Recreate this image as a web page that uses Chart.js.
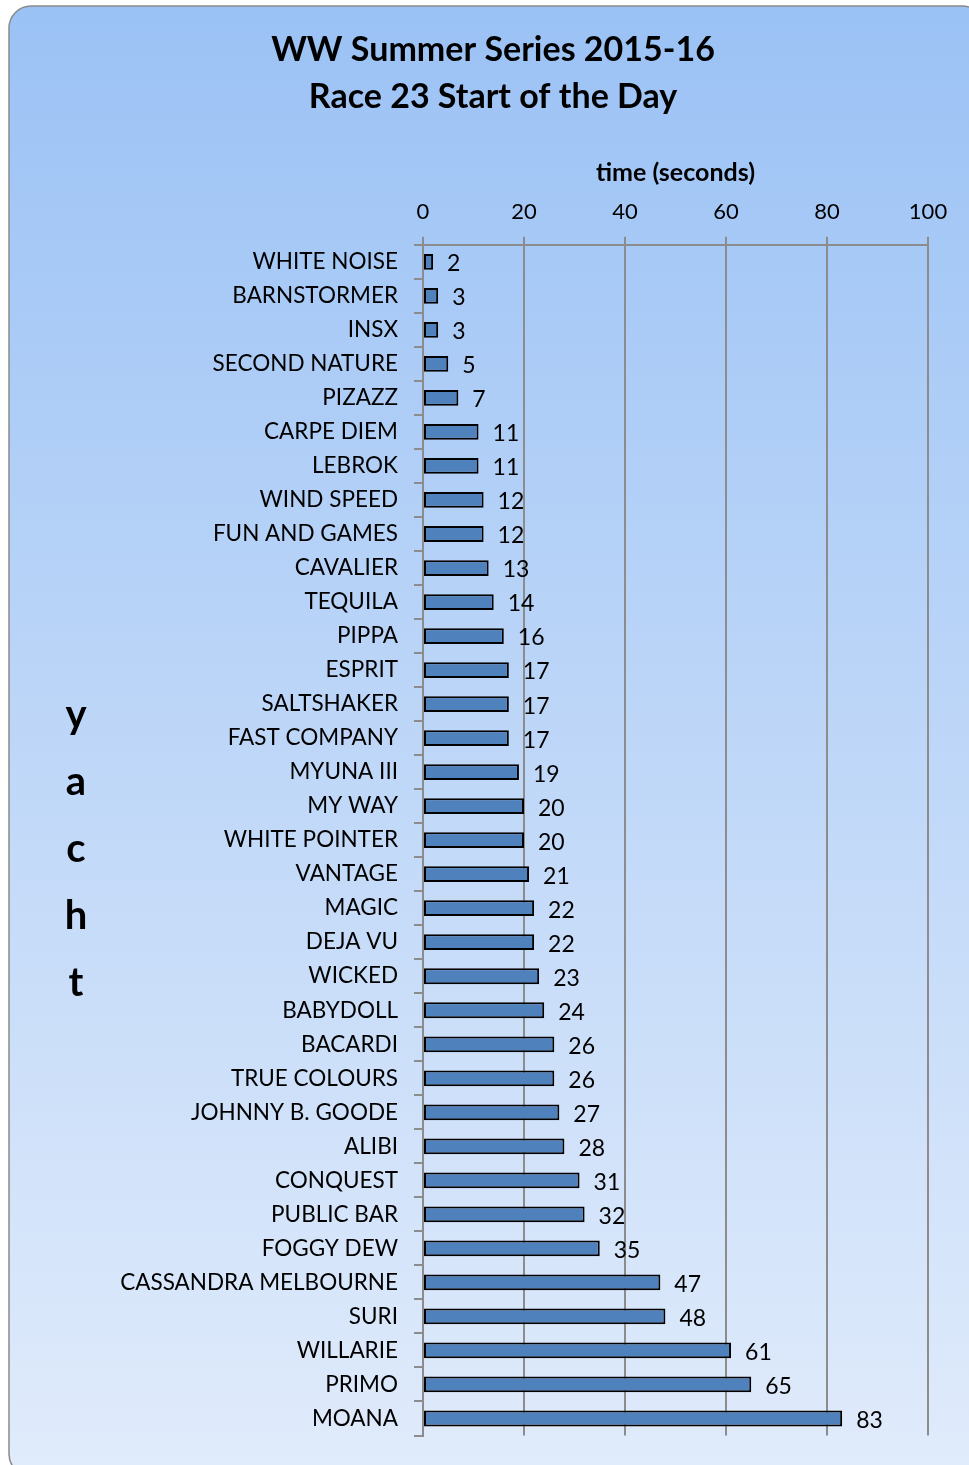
<!DOCTYPE html>
<html>
<head>
<meta charset="utf-8">
<script src="https://cdn.jsdelivr.net/npm/chart.js@4.4.1/dist/chart.umd.min.js"></script>
<style>
  html, body { margin: 0; padding: 0; background: #ffffff; }
  #wrap { width: 969px; height: 1465px; }
</style>
</head>
<body>
<div id="wrap"><canvas id="grafico"></canvas></div>
<script>
const barcos = [
    'WHITE NOISE', 'BARNSTORMER', 'INSX', 'SECOND NATURE', 'PIZAZZ', 'CARPE DIEM', 'LEBROK',
    'WIND SPEED', 'FUN AND GAMES', 'CAVALIER', 'TEQUILA', 'PIPPA', 'ESPRIT', 'SALTSHAKER',
    'FAST COMPANY', 'MYUNA III', 'MY WAY', 'WHITE POINTER', 'VANTAGE', 'MAGIC', 'DEJA VU',
    'WICKED', 'BABYDOLL', 'BACARDI', 'TRUE COLOURS', 'JOHNNY B. GOODE', 'ALIBI', 'CONQUEST',
    'PUBLIC BAR', 'FOGGY DEW', 'CASSANDRA MELBOURNE', 'SURI', 'WILLARIE', 'PRIMO', 'MOANA'
];
const tempos = [2, 3, 3, 5, 7, 11, 11, 12, 12, 13, 14, 16, 17, 17, 17, 19, 20, 20, 21, 22, 22,
    23, 24, 26, 26, 27, 28, 31, 32, 35, 47, 48, 61, 65, 83];
const titulo = ['WW Summer Series 2015-16', 'Race 23 Start of the Day'];
const tituloX = 'time (seconds)';
const tituloY = ['y', 'a', 'c', 'h', 't'];

const fonte = "Lato, 'Open Sans', sans-serif";

// fundo arredondado com degrade
const fundoPlugin = {
    id: 'fundo',
    beforeDraw(chart) {
        const ctx = chart.ctx;
        const x = 9, y = 6, w = 975, h = 1470, r = 22;
        const grad = ctx.createLinearGradient(0, y, 0, chart.height);
        grad.addColorStop(0, '#9bc2f5');
        grad.addColorStop(1, '#e0ebfb');
        ctx.save();
        ctx.beginPath();
        ctx.moveTo(x + r, y);
        ctx.lineTo(x + w - r, y);
        ctx.arcTo(x + w, y, x + w, y + r, r);
        ctx.lineTo(x + w, y + h - r);
        ctx.arcTo(x + w, y + h, x + w - r, y + h, r);
        ctx.lineTo(x + r, y + h);
        ctx.arcTo(x, y + h, x, y + h - r, r);
        ctx.lineTo(x, y + r);
        ctx.arcTo(x, y, x + r, y, r);
        ctx.closePath();
        ctx.fillStyle = grad;
        ctx.fill();
        ctx.lineWidth = 1.5;
        ctx.strokeStyle = '#8a8a8a';
        ctx.stroke();
        ctx.restore();
    }
};

// valores ao lado das barras + titulo vertical "yacht"
const rotulosPlugin = {
    id: 'rotulos',
    afterDatasetsDraw(chart) {
        const ctx = chart.ctx;
        const meta = chart.getDatasetMeta(0);
        ctx.save();
        ctx.font = '23px ' + fonte;
        ctx.fillStyle = '#000000';
        ctx.textAlign = 'left';
        ctx.textBaseline = 'middle';
        meta.data.forEach((bar, i) => {
            ctx.fillText(String(tempos[i]), bar.x + 14, bar.y + 2);
        });

        ctx.font = 'bold 40px ' + fonte;
        ctx.textAlign = 'center';
        const meio = (chart.chartArea.top + chart.chartArea.bottom) / 2 + 9;
        tituloY.forEach((letra, i) => {
            ctx.fillText(letra, 76, meio + (i - 2) * 67);
        });
        ctx.restore();
    }
};

const ctx = document.getElementById('grafico').getContext('2d');
const grafico = new Chart(ctx, {
    type: 'bar',
    data: {
        labels: barcos,
        datasets: [{
            data: tempos,
            backgroundColor: '#4f81bd',
            borderColor: '#000000',
            borderWidth: 2,
            borderSkipped: false,
            barPercentage: 0.8,
            categoryPercentage: 0.58
        }]
    },
    options: {
        indexAxis: 'y',
        responsive: true,
        maintainAspectRatio: false,
        animation: false,
        layout: {
            padding: { left: 58, right: 41, top: 0, bottom: 21 }
        },
        plugins: {
            legend: { display: false },
            tooltip: { enabled: false },
            title: {
                display: true,
                text: titulo,
                color: '#000000',
                font: { family: fonte, size: 34, weight: 'bold', lineHeight: 1.38 },
                padding: { top: 27, bottom: 0 }
            }
        },
        scales: {
            x: {
                position: 'top',
                min: 0,
                max: 100,
                ticks: {
                    stepSize: 20,
                    color: '#000000',
                    padding: 12,
                    font: { family: fonte, size: 22 }
                },
                grid: {
                    color: '#8c8c8c',
                    lineWidth: 2,
                    tickLength: 8
                },
                border: { color: '#8c8c8c', width: 2 },
                title: {
                    display: true,
                    text: tituloX,
                    color: '#000000',
                    font: { family: fonte, size: 25, weight: 'bold', lineHeight: 1.2 },
                    padding: { top: 37, bottom: 0 }
                },
                afterFit(scale) { scale.height = 124; }
            },
            y: {
                ticks: {
                    color: '#000000',
                    padding: 16,
                    autoSkip: false,
                    font: { family: fonte, size: 22.5 }
                },
                grid: {
                    drawOnChartArea: false,
                    color: '#8c8c8c',
                    lineWidth: 2,
                    tickLength: 9
                },
                border: { color: '#8c8c8c', width: 2 },
                afterFit(scale) { scale.width = 365; }
            }
        }
    },
    plugins: [fundoPlugin, rotulosPlugin]
});
</script>
</body>
</html>
